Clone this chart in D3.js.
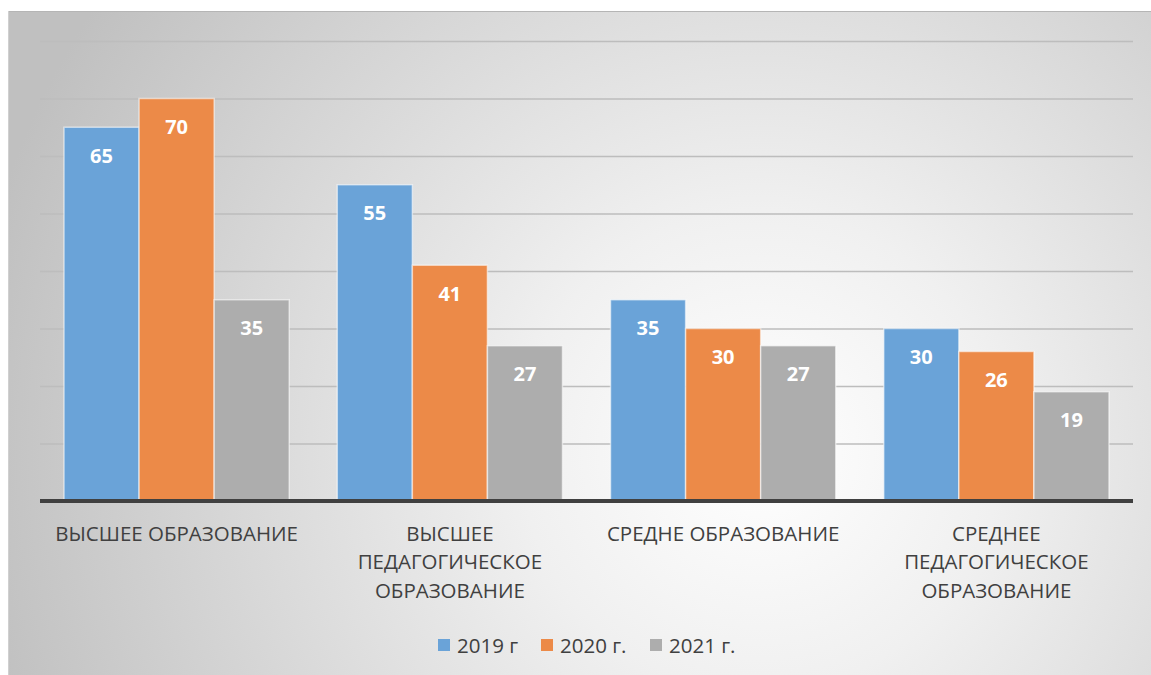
<!DOCTYPE html>
<html>
<head>
<meta charset="utf-8">
<script src="https://cdn.jsdelivr.net/npm/d3@7/dist/d3.min.js"></script>
<style>
  body { margin: 0; background: #fff; }
  svg { display: block; font-family: "Open Sans", "Noto Sans", sans-serif; }
</style>
</head>
<body>
<svg id="chart" width="1151" height="675"></svg>
<script>
// chart data
var categories = ["ВЫСШЕЕ ОБРАЗОВАНИЕ", "ВЫСШЕЕ ПЕДАГОГИЧЕСКОЕ ОБРАЗОВАНИЕ", "СРЕДНЕ ОБРАЗОВАНИЕ", "СРЕДНЕЕ ПЕДАГОГИЧЕСКОЕ ОБРАЗОВАНИЕ"];
var seriesNames = ["2019 г", "2020 г.", "2021 г."];
var seriesColors = ["#6aa3d8", "#ec8a48", "#adadad"];
var values2019 = [65, 55, 35, 30];
var values2020 = [70, 41, 30, 26];
var values2021 = [35, 27, 27, 19];
var yTicks = [0, 10, 20, 30, 40, 50, 60, 70, 80];

var series = [values2019, values2020, values2021];

var svg = d3.select('#chart');
var defs = svg.append('defs');
var grad = defs.append('radialGradient').attr('id', 'bg')
  .attr('gradientUnits', 'userSpaceOnUse')
  .attr('cx', 760).attr('cy', 450).attr('r', 800);
grad.append('stop').attr('offset', '0%').attr('stop-color', '#ffffff');
grad.append('stop').attr('offset', '30%').attr('stop-color', '#f0f0f0');
grad.append('stop').attr('offset', '100%').attr('stop-color', '#c0c0c0');

// background box
svg.append('rect').attr('x', 8).attr('y', 11).attr('width', 1151 - 8).attr('height', 675 - 11)
  .attr('fill', 'url(#bg)');
svg.append('line').attr('x1', 8).attr('x2', 1151).attr('y1', 11.5).attr('y2', 11.5)
  .attr('stroke', '#b5b5b5').attr('stroke-width', 1);
svg.append('line').attr('x1', 8.5).attr('x2', 8.5).attr('y1', 11).attr('y2', 675)
  .attr('stroke', '#d0d0d0').attr('stroke-width', 1);

var plotLeft = 40, plotRight = 1133, plotTop = 41, plotBottom = 501;

var x = d3.scaleBand().domain(categories).range([plotLeft, plotRight]).paddingInner(0).paddingOuter(0);
var xInner = d3.scaleBand().domain(d3.range(series.length)).range([0, x.bandwidth()]).paddingOuter(0.32).paddingInner(0);
var y = d3.scaleLinear().domain([0, 80]).range([plotBottom, plotTop]);

// gridlines
svg.append('g')
  .attr('transform', 'translate(' + plotLeft + ',0)')
  .call(d3.axisLeft(y).tickValues(yTicks.slice(1)).tickSize(-(plotRight - plotLeft)).tickFormat(''))
  .call(function (g) { g.select('.domain').remove(); })
  .call(function (g) { g.selectAll('line').attr('stroke', '#bdbdbd').attr('stroke-width', 1.5); });

// bars
var groups = svg.selectAll('.grp').data(categories).enter().append('g')
  .attr('class', 'grp')
  .attr('transform', function (d) { return 'translate(' + x(d) + ',0)'; });

series.forEach(function (vals, si) {
  groups.append('rect')
    .attr('x', function () { return xInner(si); })
    .attr('y', function (d, i) { return y(vals[i]); })
    .attr('width', xInner.bandwidth())
    .attr('height', function (d, i) { return plotBottom - y(vals[i]); })
    .attr('fill', seriesColors[si])
    .attr('stroke', 'rgba(255,255,255,0.55)')
    .attr('stroke-width', 1.5);
  groups.append('text')
    .attr('x', function () { return xInner(si) + xInner.bandwidth() / 2; })
    .attr('y', function (d, i) { return y(vals[i]) + 35.5; })
    .attr('text-anchor', 'middle')
    .attr('fill', '#ffffff')
    .attr('font-weight', 'bold')
    .attr('font-size', '20px')
    .text(function (d, i) { return vals[i]; });
});

// x axis
var xAxis = svg.append('g')
  .attr('transform', 'translate(0,' + plotBottom + ')')
  .call(d3.axisBottom(x).tickSize(0).tickPadding(0));
xAxis.select('.domain').remove();
svg.append('line').attr('x1', plotLeft).attr('x2', plotRight).attr('y1', plotBottom).attr('y2', plotBottom)
  .attr('stroke', '#404040').attr('stroke-width', 4);

xAxis.selectAll('.tick text')
  .attr('fill', '#404040')
  .attr('font-size', '20.5px')
  .attr('font-family', '"Open Sans", "Noto Sans", sans-serif')
  .attr('dy', null)
  .attr('y', 0)
  .each(function (d) {
    var t = d3.select(this);
    var words = d.split(' ');
    var lines = [], cur = '';
    t.text('');
    var probe = t.append('tspan');
    words.forEach(function (w) {
      var test = cur ? cur + ' ' + w : w;
      probe.text(test);
      if (probe.node().getComputedTextLength() > 265 && cur) {
        lines.push(cur);
        cur = w;
      } else {
        cur = test;
      }
    });
    lines.push(cur);
    probe.remove();
    lines.forEach(function (l, i) {
      t.append('tspan').attr('x', 0).attr('y', 39.5 + i * 28.5).text(l);
    });
  });

// legend
var legend = svg.append('g').attr('transform', 'translate(0,645)');
var legendX = [438, 541, 650];
seriesNames.forEach(function (name, i) {
  var g = legend.append('g').attr('transform', 'translate(' + legendX[i] + ',0)');
  g.append('rect').attr('x', 0).attr('y', -6).attr('width', 12).attr('height', 12)
    .attr('fill', seriesColors[i]);
  g.append('text').attr('x', 19).attr('y', 7.5)
    .attr('fill', '#404040').attr('font-size', '20.5px')
    .text(name);
});
</script>
</body>
</html>
